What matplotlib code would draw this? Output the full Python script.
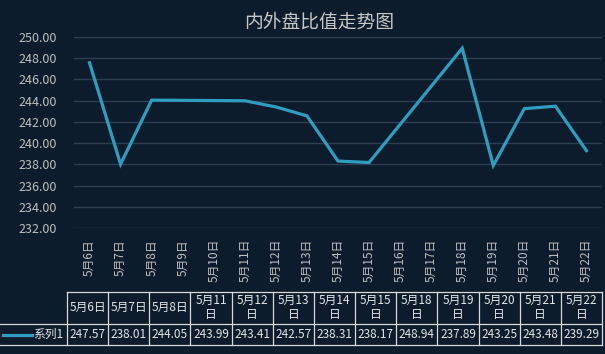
import matplotlib.pyplot as plt

plt.rcParams['font.family'] = ['Noto Sans CJK SC', 'DejaVu Sans']

# trading days (May) and values
days = [6, 7, 8, 11, 12, 13, 14, 15, 18, 19, 20, 21, 22]
values = [247.57, 238.01, 244.05, 243.99, 243.41, 242.57, 238.31, 238.17,
          248.94, 237.89, 243.25, 243.48, 239.29]
axis_days = list(range(6, 23))
series_name = "系列1"
title = "内外盘比值走势图"

BG = "#0c1c2c"
TXT = "#bfbfbf"
LINE = "#2f9dbf"
W, H = 605, 354

fig = plt.figure(figsize=(6.05, 3.54), dpi=100, facecolor=BG)
ax = fig.add_axes([74 / W, 1 - 228 / H, 528 / W, 191 / H], facecolor=BG)

ax.plot(days, values, color=LINE, linewidth=2.3, solid_joinstyle="miter")

ax.set_xlim(5.5, 22.5)
ax.set_ylim(232, 250)
ax.set_yticks(range(232, 251, 2))
ax.set_yticklabels([f"{v:.2f}" for v in range(232, 251, 2)])
ax.set_xticks(axis_days)
ax.set_xticklabels([f"5月{d}日" for d in axis_days], rotation=90)
ax.tick_params(colors=TXT, labelsize=8.5, length=0)
ax.tick_params(axis="y", labelsize=9, pad=12)
ax.tick_params(axis="x", pad=8)
ax.grid(axis="y", color="#2e3f50", linewidth=1)
ax.set_axisbelow(True)
for s in ax.spines.values():
    s.set_visible(False)

fig.text(319 / W, 1 - 22 / H, title, color="#c8c8c8", fontsize=13.5,
         ha="center", va="center")

# data table underneath, drawn in pixel units
tax = fig.add_axes([0, 0, 1, 1])
tax.set_xlim(0, W)
tax.set_ylim(H, 0)
tax.axis("off")

x0, cw = 67, (602 - 67) / len(days)
y_top, y_mid, y_bot = 291.5, 324, 345
xs = [x0 + i * cw for i in range(len(days) + 1)]
edge = dict(color="#d9d9d9", linewidth=0.9)

tax.plot([x0, xs[-1]], [y_top, y_top], **edge)
tax.plot([0, xs[-1]], [y_mid, y_mid], **edge)
tax.plot([0, xs[-1]], [y_bot, y_bot], **edge)
for x in xs:
    tax.plot([x, x], [y_top, y_bot], **edge)

for i, (d, v) in enumerate(zip(days, values)):
    cx = x0 + (i + 0.5) * cw
    lab = f"5月{d}日" if d < 10 else f"5月{d}\n日"
    tax.text(cx, (y_top + y_mid) / 2, lab, color="#e6e6e6", fontsize=8.5,
             ha="center", va="center", linespacing=1.1)
    tax.text(cx, (y_mid + y_bot) / 2, f"{v:.2f}", color="#e6e6e6",
             fontsize=8.5, ha="center", va="center")

tax.plot([3, 32], [335, 335], color=LINE, linewidth=2.3)
tax.text(x0 - 4, (y_mid + y_bot) / 2, series_name, color="#e6e6e6",
         fontsize=8.5, ha="right", va="center")

fig.savefig("out.png", dpi=100, facecolor=BG)
